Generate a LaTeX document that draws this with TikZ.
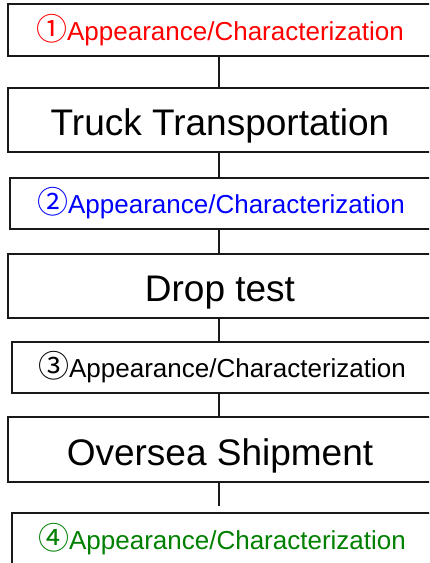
\documentclass[tikz,border=0pt]{standalone}
\usepackage{fontspec}
\setmainfont{Liberation Sans}
\newfontfamily\cjkfont{Noto Sans CJK JP}
\definecolor{rred}{RGB}{255,0,0}
\definecolor{rblue}{RGB}{0,0,255}
\definecolor{rgreen}{RGB}{0,128,0}
\newcommand{\circd}[1]{{\cjkfont\fontsize{31}{30}\selectfont #1}}
\begin{document}
\begin{tikzpicture}[x=1pt,y=-1pt,
  box/.style={draw=black!90, line width=1.5pt, rectangle, inner sep=0pt, anchor=center},
  smalltxt/.style={font=\fontsize{26}{30}\selectfont},
  bigtxt/.style={font=\fontsize{37}{42}\selectfont, text height=31pt, text depth=0pt},
  conn/.style={draw=black!90, line width=1.8pt}]
\useasboundingbox (0,0) rectangle (429,563);
\begin{scope}
\clip (0,0) rectangle (429,563);
\coordinate (spine) at (219,0);
\node[box, smalltxt, text=rred, minimum width=424pt, minimum height=52pt] (b1) at (220,30)
  {\circd{①}Appearance/Characterization};
\node[box, bigtxt, minimum width=424pt, minimum height=64pt] (b2) at (220,120)
  {Truck Transportation};
\node[box, smalltxt, text=rblue, minimum width=422pt, minimum height=51pt] (b3) at (221,203.5)
  {\circd{②}Appearance/Characterization};
\node[box, bigtxt, minimum width=424pt, minimum height=64pt] (b4) at (220,286)
  {Drop test};
\node[box, smalltxt, text=black, minimum width=420pt, minimum height=51pt] (b5) at (222,367.5)
  {\circd{③}Appearance/Characterization};
\node[box, bigtxt, minimum width=424pt, minimum height=65pt] (b6) at (220,449.5)
  {Oversea Shipment};
\node[box, smalltxt, text=rgreen, minimum width=420pt, minimum height=52pt] (b7) at (222,539)
  {\circd{④}Appearance/Characterization};
\draw[conn] (b1.south -| spine) -- (b2.north -| spine);
\draw[conn] (b2.south -| spine) -- (b3.north -| spine);
\draw[conn] (b3.south -| spine) -- (b4.north -| spine);
\draw[conn] (b4.south -| spine) -- (b5.north -| spine);
\draw[conn] (b5.south -| spine) -- (b6.north -| spine);
\draw[conn, shorten >=6pt] (b6.south -| spine) -- (b7.north -| spine);
\end{scope}
\end{tikzpicture}
\end{document}
